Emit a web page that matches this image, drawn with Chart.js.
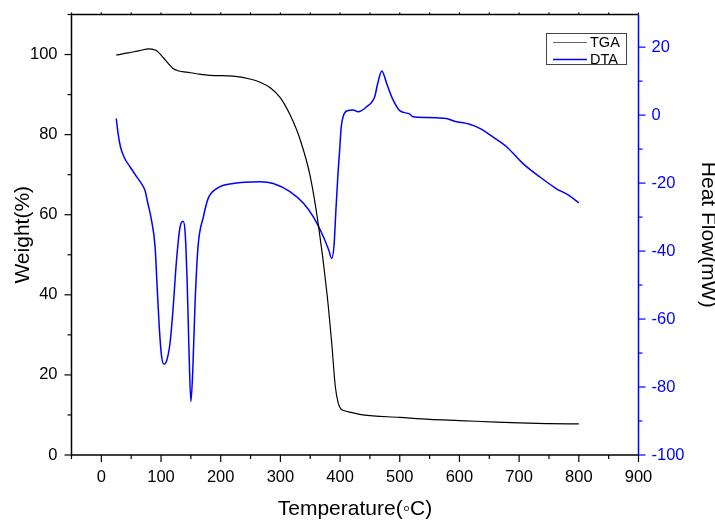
<!DOCTYPE html>
<html>
<head>
<meta charset="utf-8">
<script src="https://cdn.jsdelivr.net/npm/chart.js@4.4.0/dist/chart.umd.min.js"></script>
<style>
  body { margin: 0; background: #fff; }
  canvas { display: block; }
</style>
</head>
<body>
<canvas id="tgaChart" width="715" height="520"></canvas>
<script>
// TGA / DTA curves

const tgaTemp = [25, 45, 64, 80, 92, 104, 112, 120, 130, 143, 160, 182, 221, 249, 266, 283, 300, 316, 333, 350, 364, 378, 386, 392, 397, 401, 406, 420, 438, 500, 550, 600, 662, 700, 750, 800];
const tgaWeight = [99.9, 100.4, 101.0, 101.4, 101.0, 99.2, 97.8, 96.5, 95.9, 95.6, 95.2, 94.8, 94.6, 93.9, 93.1, 91.7, 89.2, 85.0, 78.8, 69.6, 57.1, 40.4, 27.9, 17.1, 12.9, 11.6, 11.1, 10.6, 10.0, 9.4, 8.9, 8.6, 8.2, 8.0, 7.85, 7.75];

const dtaTemp = [25, 28, 32, 39, 48, 59, 67, 73, 78, 84, 90, 93.5, 97, 101, 105, 109, 115, 120, 126, 132, 137, 140.5, 144, 147, 150, 153, 157, 162, 171, 179, 193, 221, 266, 288, 316, 339, 355, 372, 381, 386, 390, 393, 396.5, 399, 402, 405, 411, 422, 430, 444, 458, 463, 470, 478, 489, 500, 517, 522, 545, 561, 578, 592, 617, 634, 656, 679, 706, 734, 762, 782, 800];
const dtaFlow = [-1, -5.4, -9.3, -12.7, -15.2, -18.1, -20.1, -22.1, -26, -30.9, -38.7, -50.5, -62.3, -71.1, -73.3, -72.5, -67.2, -57.4, -42.6, -32.8, -31.2, -34.8, -50.5, -70.1, -84.3, -76, -55.4, -38.7, -29.9, -24.5, -21.6, -20.1, -19.6, -20.1, -22.5, -26, -29.9, -35.8, -39.7, -42.2, -38, -28, -17.2, -11, -3.4, -0.5, 1.2, 1.5, 1.0, 2.4, 5.4, 9.3, 13.0, 9.3, 4.4, 1.3, 0.3, -0.5, -0.7, -0.8, -1.0, -1.8, -2.7, -3.9, -6.4, -9.3, -14.2, -18.1, -21.6, -23.5, -25.8];

const seriesNames = ["TGA", "DTA"];
const seriesColors = ["#000000", "#0000ff"];

Chart.defaults.font.family = "'Liberation Sans', Arial, sans-serif";
Chart.defaults.color = "#000";

function line(ctx, x1, y1, x2, y2) {
  ctx.beginPath();
  ctx.moveTo(x1, y1);
  ctx.lineTo(x2, y2);
  ctx.stroke();
}

// axis lines, major/minor tick marks and the boxed legend
const framePlugin = {
  id: "frame",
  afterDraw(chart) {
    const { ctx, chartArea: a, scales } = chart;
    ctx.save();
    ctx.lineWidth = 1.5;
    ctx.strokeStyle = "#000";
    line(ctx, a.left, a.top, a.right, a.top);
    line(ctx, a.left, a.bottom, a.right, a.bottom);
    line(ctx, a.left, a.top, a.left, a.bottom);

    ctx.lineWidth = 1.2;
    scales.x.ticks.forEach(t => {
      const px = scales.x.getPixelForValue(t.value);
      const major = t.value % 100 === 0;
      line(ctx, px, a.bottom, px, a.bottom + (major ? 7 : 4));
      line(ctx, px, a.top, px, a.top - 2);
    });
    scales.y.ticks.forEach(t => {
      const py = scales.y.getPixelForValue(t.value);
      const major = t.value % 20 === 0;
      line(ctx, a.left, py, a.left - (major ? 7 : 4), py);
    });

    ctx.strokeStyle = "#0000ff";
    ctx.lineWidth = 1.5;
    line(ctx, a.right, a.top, a.right, a.bottom);
    ctx.lineWidth = 1.2;
    scales.y1.ticks.forEach(t => {
      const py = scales.y1.getPixelForValue(t.value);
      const major = t.value % 20 === 0;
      line(ctx, a.right, py, a.right + (major ? 7 : 4), py);
    });

    // legend
    const bx = 546, by = 33, bw = 80, bh = 31;
    ctx.strokeStyle = "#444";
    ctx.lineWidth = 1;
    ctx.strokeRect(bx + 0.5, by + 0.5, bw, bh);
    ctx.font = "14.5px 'Liberation Sans', Arial, sans-serif";
    ctx.textBaseline = "middle";
    ctx.textAlign = "left";
    seriesNames.forEach((name, i) => {
      const ly = by + 9.5 + i * 17;
      ctx.strokeStyle = i === 0 ? "#666" : seriesColors[i];
      ctx.lineWidth = i === 0 ? 1 : 1.5;
      line(ctx, bx + 7, ly, bx + 41, ly);
      ctx.fillStyle = "#000";
      ctx.fillText(name, bx + 44, ly + 0.5);
    });
    ctx.restore();
  }
};

const tickFont = { size: 16.5 };
const titleFont = { size: 21 };

// keep the plot box fixed: no extra room for overhanging tick labels
function fixVertical(width) {
  return s => {
    s.width = width;
    s.paddingTop = 0;
    s.paddingBottom = 0;
  };
}

new Chart(document.getElementById("tgaChart"), {
  type: "line",
  data: {
    datasets: [
      {
        label: seriesNames[0],
        data: tgaTemp.map((t, i) => ({ x: t, y: tgaWeight[i] })),
        borderColor: seriesColors[0],
        borderWidth: 1.2,
        pointRadius: 0,
        cubicInterpolationMode: "monotone",
        yAxisID: "y"
      },
      {
        label: seriesNames[1],
        data: dtaTemp.map((t, i) => ({ x: t, y: dtaFlow[i] })),
        borderColor: seriesColors[1],
        borderWidth: 1.5,
        pointRadius: 0,
        cubicInterpolationMode: "monotone",
        yAxisID: "y1"
      }
    ]
  },
  options: {
    responsive: false,
    animation: false,
    layout: { padding: { top: 14.5, left: 0, right: 0, bottom: 0 } },
    plugins: { legend: { display: false }, tooltip: { enabled: false } },
    scales: {
      x: {
        type: "linear",
        min: -50,
        max: 900,
        grid: { display: false, drawTicks: false },
        border: { display: false },
        ticks: {
          stepSize: 50,
          includeBounds: false,
          autoSkip: false,
          maxRotation: 0,
          padding: 13,
          font: tickFont,
          callback: v => (v >= 0 && v % 100 === 0 ? v : "")
        },
        title: { display: true, text: "Temperature(◦C)", font: titleFont, padding: { top: 0, bottom: -2 } },
        afterFit: s => {
          s.height = 65;
          s.paddingLeft = 0;
          s.paddingRight = 0;
        }
      },
      y: {
        position: "left",
        min: 0,
        max: 110,
        grid: { display: false, drawTicks: false },
        border: { display: false },
        ticks: {
          stepSize: 10,
          includeBounds: false,
          autoSkip: false,
          padding: 14,
          font: tickFont,
          callback: v => (v % 20 === 0 ? v : "")
        },
        title: { display: true, text: "Weight(%)", font: titleFont, padding: { top: 11, bottom: 0 } },
        afterFit: fixVertical(71.5)
      },
      y1: {
        position: "right",
        min: -100,
        max: 29.6,
        grid: { display: false, drawTicks: false },
        border: { display: false },
        ticks: {
          stepSize: 10,
          includeBounds: false,
          autoSkip: false,
          padding: 13,
          color: "#0000ff",
          font: tickFont,
          callback: v => (v % 20 === 0 ? v : "")
        },
        title: { display: true, text: "Heat Flow(mW)", font: titleFont, padding: { top: -5, bottom: 0 } },
        afterFit: fixVertical(715 - 638.5)
      }
    }
  },
  plugins: [framePlugin]
});
</script>
</body>
</html>
